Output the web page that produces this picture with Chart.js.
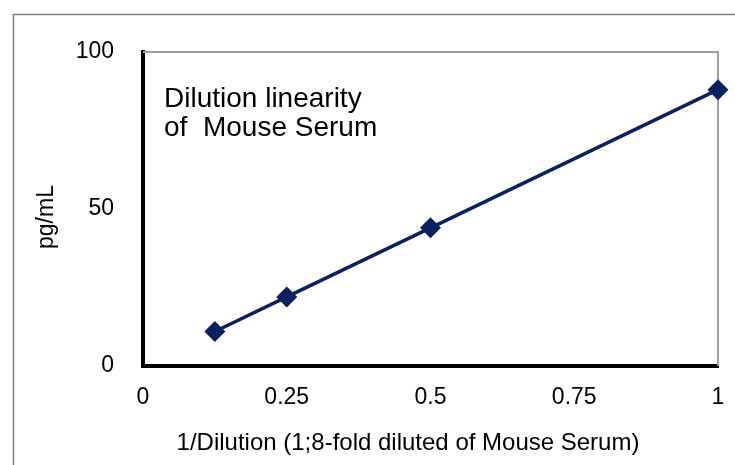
<!DOCTYPE html>
<html>
<head>
<meta charset="utf-8">
<script src="https://cdn.jsdelivr.net/npm/chart.js@4.4.1/dist/chart.umd.min.js"></script>
<style>
  html, body { margin: 0; padding: 0; background: #fff; }
  #wrap { width: 735px; height: 465px; }
</style>
</head>
<body>
<div id="wrap"><canvas id="c" width="735" height="465"></canvas></div>
<script>
// values
const dilutionX = [0.125, 0.25, 0.5, 1];
const serumPg = [11, 22, 44, 88];
const xTicks = [0, 0.25, 0.5, 0.75, 1];
const yTicks = [0, 50, 100];
const noteLines = ['Dilution linearity', 'of  Mouse Serum'];
const xTitle = '1/Dilution (1;8-fold diluted of Mouse Serum)';
const yTitle = 'pg/mL';

const FONT = "'Liberation Sans', Arial, sans-serif";
const NAVY = '#0a215e';

// outer frame, gray plot border, axis titles and the note in the plot
const framePlugin = {
  id: 'frame',
  beforeDraw(chart) {
    const ctx = chart.ctx;
    ctx.save();
    ctx.fillStyle = '#fff';
    ctx.fillRect(0, 0, chart.width, chart.height);
    ctx.strokeStyle = '#7f7f7f';
    ctx.lineWidth = 1.5;
    ctx.strokeRect(13.5, 14.5, 900, 900);
    ctx.restore();
  },
  beforeDatasetsDraw(chart) {
    const a = chart.chartArea;
    const ctx = chart.ctx;
    ctx.save();
    ctx.strokeStyle = '#a0a0a0';
    ctx.lineWidth = 2;
    ctx.beginPath();
    ctx.moveTo(a.left, a.top);
    ctx.lineTo(a.right, a.top);
    ctx.lineTo(a.right, a.bottom);
    ctx.stroke();

    ctx.fillStyle = '#000';
    ctx.textBaseline = 'alphabetic';
    ctx.font = '28px ' + FONT;
    noteLines.forEach((t, i) => ctx.fillText(t, 164, 107 + i * 29));

    ctx.textAlign = 'center';
    ctx.font = '24px ' + FONT;
    ctx.fillText(xTitle, 408, 450);

    ctx.translate(47, 217);
    ctx.rotate(-Math.PI / 2);
    ctx.textBaseline = 'middle';
    ctx.font = '23px ' + FONT;
    ctx.fillText(yTitle, 0, 0);
    ctx.restore();
  }
};

new Chart(document.getElementById('c').getContext('2d'), {
  type: 'scatter',
  data: {
    datasets: [{
      data: dilutionX.map((x, i) => ({ x, y: serumPg[i] })),
      showLine: true,
      borderColor: NAVY,
      backgroundColor: NAVY,
      borderWidth: 3.5,
      pointStyle: 'rectRot',
      pointRadius: 8,
      pointHoverRadius: 8,
      clip: false,
    }]
  },
  options: {
    responsive: false,
    animation: false,
    events: [],
    layout: { padding: { left: 0, top: 52, right: 17, bottom: 0 } },
    plugins: { legend: { display: false }, tooltip: { enabled: false } },
    scales: {
      x: {
        type: 'linear',
        min: 0, max: 1,
        afterFit(s) { s.height = 99; s.paddingLeft = 0; s.paddingRight = 0; },
        afterBuildTicks(s) { s.ticks = xTicks.map(v => ({ value: v })); },
        grid: { display: false, drawTicks: false },
        border: { color: '#000', width: 4 },
        ticks: { color: '#000', padding: 18, font: { family: FONT, size: 23 }, maxRotation: 0,
                 callback: v => String(v) }
      },
      y: {
        type: 'linear',
        min: 0, max: 100,
        afterFit(s) { s.width = 143; s.paddingTop = 0; s.paddingBottom = 0; },
        afterBuildTicks(s) { s.ticks = yTicks.map(v => ({ value: v })); },
        grid: { display: false, drawTicks: false },
        border: { color: '#000', width: 4 },
        ticks: { color: '#000', padding: 29, font: { family: FONT, size: 23 },
                 callback: v => String(v) }
      }
    }
  },
  plugins: [framePlugin]
});
</script>
</body>
</html>
